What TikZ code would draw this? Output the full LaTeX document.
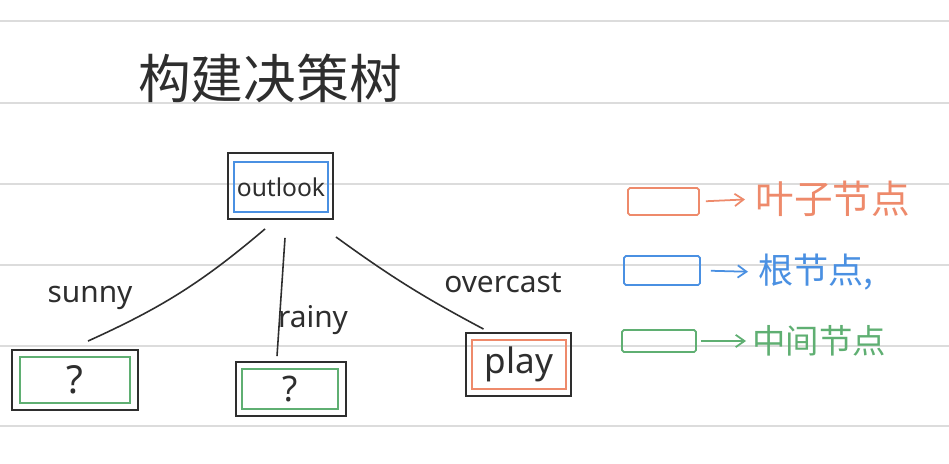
\documentclass[tikz,border=0pt]{standalone}
\usepackage{fontspec}
\setmainfont{Noto Sans}
\newfontfamily\cjk{Noto Sans CJK SC}
\usetikzlibrary{arrows.meta}
\definecolor{leaforange}{HTML}{EE8A6B}
\definecolor{rootblue}{HTML}{4A90E2}
\definecolor{midgreen}{HTML}{5FAF72}
\definecolor{ink}{HTML}{2E2E2E}
\definecolor{rulegray}{HTML}{DCDCDC}
\begin{document}
\begin{tikzpicture}[x=0.02cm,y=-0.02cm,
  rule/.style={rulegray,line width=1.2pt},
  outerbox/.style={draw=ink,line width=1.1pt,inner sep=0pt},
  innerbox/.style={line width=1pt,inner sep=0pt,text=ink},
  edge/.style={ink,line width=0.9pt},
  lbl/.style={text=ink,font=\fontsize{17}{18}\selectfont,inner sep=0pt},
  legbox/.style={line width=1pt,inner sep=0pt,rounded corners=1pt},
  legarrow/.style={line width=1pt,-{Straight Barb[length=5pt,width=7pt]}},
]
\fill[white] (0,0) rectangle (949,463);
\useasboundingbox (0,0) rectangle (949,463);
\foreach \yy in {21,103,184,265,346,426} \draw[rule] (0,\yy) -- (949,\yy);

% title
\node[text=ink,font=\cjk\fontsize{30}{32}\selectfont,inner sep=0pt] (title) at (270,78) {构建决策树};

% root
\node[outerbox,minimum width=2.1cm,minimum height=1.32cm] (outlook) at (280.5,186) {};
\node[innerbox,draw=rootblue,minimum width=1.88cm,minimum height=1.0cm,font=\fontsize{14}{15}\selectfont] (outlookin) at (281,187) {outlook};

% children
\node[outerbox,minimum width=2.52cm,minimum height=1.2cm] (q1) at (75,380) {};
\node[innerbox,draw=midgreen,minimum width=2.2cm,minimum height=0.92cm,font=\fontsize{22}{24}\selectfont] (q1in) at (75,380) {?};

\node[outerbox,minimum width=2.2cm,minimum height=1.08cm] (q2) at (291,389) {};
\node[innerbox,draw=midgreen,minimum width=1.92cm,minimum height=0.8cm,font=\fontsize{20}{22}\selectfont] (q2in) at (290,389) {?};

\node[outerbox,minimum width=2.1cm,minimum height=1.26cm] (play) at (518.5,364.5) {};
\node[innerbox,draw=leaforange,minimum width=1.88cm,minimum height=0.98cm,font=\fontsize{20}{22}\selectfont] (playin) at (519,364.5) {play};

% edges
\draw[edge] ([xshift=-0.31cm,yshift=-0.18cm]outlook.south) to[bend left=8] ([xshift=0.26cm,yshift=0.16cm]q1.north);
\draw[edge] ([xshift=0.09cm,yshift=-0.36cm]outlook.south) -- ([xshift=-0.28cm,yshift=0.1cm]q2.north);
\draw[edge] ([xshift=0.04cm,yshift=-0.34cm]outlook.south east) to[bend right=4] ([xshift=-0.7cm,yshift=0.06cm]play.north);

% edge labels
\node[lbl] (sunny) at (90,298) {sunny};
\node[lbl] (rainy) at (313,320) {rainy};
\node[lbl] (overcast) at (503,283) {overcast};

% legend
\node[legbox,draw=leaforange,minimum width=1.42cm,minimum height=0.54cm] (legleaf) at (663.5,201.5) {};
\node[anchor=west,inner sep=0pt,text=leaforange,font=\cjk\fontsize{22}{24}\selectfont] (legleaft) at (755,199) {叶子节点};
\draw[legarrow,leaforange,shorten <=0.12cm,shorten >=0.2cm] (legleaf.east) -- (legleaft.west);

\node[legbox,draw=rootblue,minimum width=1.52cm,minimum height=0.58cm] (legroot) at (662,270.5) {};
\node[anchor=west,inner sep=0pt,text=rootblue,font=\cjk\fontsize{20}{22}\selectfont] (legroott) at (758,272) {根节点,};
\draw[legarrow,rootblue,shorten <=0.2cm,shorten >=0.2cm] (legroot.east) -- (legroott.west);

\node[legbox,draw=midgreen,minimum width=1.48cm,minimum height=0.44cm] (legmid) at (659,341) {};
\node[anchor=west,inner sep=0pt,text=midgreen,font=\cjk\fontsize{19}{21}\selectfont] (legmidt) at (752,341) {中间节点};
\draw[legarrow,midgreen,shorten <=0.08cm,shorten >=0.12cm] (legmid.east) -- (legmidt.west);
\end{tikzpicture}
\end{document}
